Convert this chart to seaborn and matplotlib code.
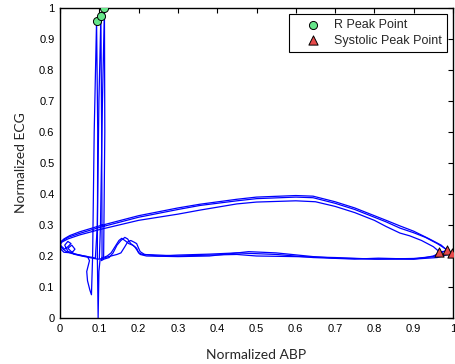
import numpy as np
import matplotlib
matplotlib.use("Agg")
import matplotlib.pyplot as plt
import seaborn as sns

sns.set_theme(style="white")
plt.rcParams['font.family'] = ['Liberation Sans', 'DejaVu Sans']

# three heart cycles traced in the ABP / ECG plane
abp_1 = [0.965, 0.95, 0.92, 0.89, 0.865, 0.83, 0.8, 0.75, 0.7, 0.65, 0.6, 0.5, 0.45, 0.356, 0.3, 0.2, 0.1, 0.05, 0.02, 0.005, 0.0,
         0.005, 0.015, 0.03, 0.05, 0.07,
         0.075, 0.068, 0.07, 0.076, 0.08, 0.083, 0.087, 0.093, 0.096, 0.095, 0.097, 0.099, 0.102, 0.11, 0.12, 0.13, 0.14, 0.15,
         0.157, 0.165, 0.175, 0.185, 0.195, 0.2, 0.21, 0.25, 0.3, 0.38, 0.45, 0.5, 0.6, 0.7, 0.8, 0.85, 0.9, 0.93, 0.95, 0.975]
ecg_1 = [0.214, 0.23, 0.25, 0.265, 0.274, 0.295, 0.315, 0.34, 0.36, 0.375, 0.378, 0.374, 0.368, 0.348, 0.335, 0.315, 0.285, 0.268, 0.255, 0.245, 0.236,
         0.225, 0.215, 0.208, 0.203, 0.198,
         0.185, 0.15, 0.12, 0.09, 0.075, 0.2, 0.6, 0.959, 0.6, 0.2, 0.0, 0.15, 0.19, 0.195, 0.2, 0.21, 0.23, 0.25,
         0.257, 0.25, 0.24, 0.235, 0.225, 0.21, 0.205, 0.203, 0.2, 0.203, 0.205, 0.2, 0.198, 0.195, 0.19, 0.19, 0.19, 0.195, 0.2, 0.215]

abp_2 = [0.984, 0.97, 0.94, 0.9, 0.865, 0.83, 0.8, 0.75, 0.7, 0.644, 0.6, 0.5, 0.45, 0.356, 0.3, 0.2, 0.1, 0.05, 0.025, 0.01, 0.0,
         0.003, 0.012, 0.02, 0.028, 0.02, 0.012, 0.02, 0.04, 0.06, 0.08, 0.09,
         0.095, 0.099, 0.104, 0.106, 0.107, 0.105, 0.112, 0.125, 0.135, 0.145, 0.155, 0.165, 0.172, 0.18, 0.19, 0.198, 0.204,
         0.22, 0.3, 0.38, 0.48, 0.55, 0.644, 0.7, 0.81, 0.9, 0.95, 0.984]
ecg_2 = [0.219, 0.235, 0.255, 0.28, 0.297, 0.315, 0.33, 0.355, 0.375, 0.393, 0.395, 0.39, 0.383, 0.367, 0.355, 0.33, 0.297, 0.278, 0.266, 0.255, 0.243,
         0.232, 0.222, 0.23, 0.24, 0.247, 0.235, 0.215, 0.206, 0.2, 0.196, 0.193,
         0.3, 0.7, 0.975, 0.6, 0.2, 0.185, 0.19, 0.195, 0.21, 0.235, 0.25, 0.26, 0.255, 0.24, 0.23, 0.215, 0.205,
         0.2, 0.198, 0.2, 0.214, 0.21, 0.198, 0.193, 0.19, 0.192, 0.198, 0.219]

abp_3 = [0.997, 0.985, 0.96, 0.93, 0.9, 0.865, 0.83, 0.8, 0.75, 0.7, 0.644, 0.6, 0.5, 0.45, 0.356, 0.3, 0.2, 0.1, 0.05, 0.02, 0.005, 0.0,
         0.002, 0.01, 0.03, 0.038, 0.03, 0.02, 0.035, 0.055, 0.075, 0.095,
         0.1, 0.103, 0.108, 0.113, 0.114, 0.111, 0.108, 0.115, 0.13, 0.145, 0.155, 0.165, 0.172, 0.18, 0.188, 0.195, 0.2, 0.204,
         0.215, 0.25, 0.3, 0.38, 0.45, 0.55, 0.644, 0.75, 0.81, 0.9, 0.96, 0.997]
ecg_3 = [0.209, 0.22, 0.24, 0.26, 0.275, 0.29, 0.31, 0.325, 0.35, 0.37, 0.388, 0.39, 0.385, 0.378, 0.363, 0.35, 0.325, 0.292, 0.273, 0.26, 0.248, 0.238,
         0.222, 0.212, 0.21, 0.222, 0.235, 0.225, 0.206, 0.2, 0.195, 0.19,
         0.19, 0.3, 0.7, 1.0, 0.6, 0.2, 0.19, 0.195, 0.2, 0.205, 0.21, 0.23, 0.245, 0.25, 0.245, 0.24, 0.225, 0.214,
         0.205, 0.2, 0.203, 0.206, 0.21, 0.205, 0.195, 0.19, 0.193, 0.19, 0.195, 0.209]

r_abp = [0.093, 0.104, 0.113]
r_ecg = [0.959, 0.975, 1.0]
sys_abp = [0.965, 0.984, 0.997]
sys_ecg = [0.214, 0.219, 0.209]

fig = plt.figure(figsize=(4.56, 3.64), dpi=100)
ax = fig.add_axes([0.1316, 0.1264, 0.8618, 0.8516])

for xs, ys in [(abp_1, ecg_1), (abp_2, ecg_2), (abp_3, ecg_3)]:
    sns.lineplot(x=xs, y=ys, sort=False, estimator=None, color='blue', lw=0.9, ax=ax)

sns.scatterplot(x=r_abp, y=r_ecg, marker='o', s=34, color='#66e68a', edgecolor='black',
                linewidth=0.7, label='R Peak Point', ax=ax, zorder=5)
sns.scatterplot(x=sys_abp, y=sys_ecg, marker='^', s=44, color='#e84a4a', edgecolor='black',
                linewidth=0.7, label='Systolic Peak Point', ax=ax, zorder=5)

ax.set_xlim(0, 1)
ax.set_ylim(0, 1)
ax.set_xticks(np.arange(0, 1.01, 0.1))
ax.set_yticks(np.arange(0, 1.01, 0.1))
ax.set_xticklabels(['0', '0.1', '0.2', '0.3', '0.4', '0.5', '0.6', '0.7', '0.8', '0.9', '1'])
ax.set_yticklabels(['0', '0.1', '0.2', '0.3', '0.4', '0.5', '0.6', '0.7', '0.8', '0.9', '1'])
ax.tick_params(direction='in', length=3.5, width=0.8, top=True, right=True,
               labelsize=8, pad=4, colors='black')
for sp in ax.spines.values():
    sp.set_color('black')
    sp.set_linewidth(1.0)

ax.set_xlabel('Normalized ABP', family='Lato', fontsize=10, labelpad=11)
ax.set_ylabel('Normalized ECG', family='Lato', fontsize=10, labelpad=9)

leg = ax.legend(loc='upper right', bbox_to_anchor=(0.984, 0.9806), fontsize=9, frameon=True,
                fancybox=False, framealpha=1, edgecolor='black', handlelength=3.1,
                handletextpad=0.1, borderpad=0.4, borderaxespad=0, labelspacing=0.3)
leg.get_frame().set_linewidth(0.8)

plt.savefig('out.png', dpi=100)
